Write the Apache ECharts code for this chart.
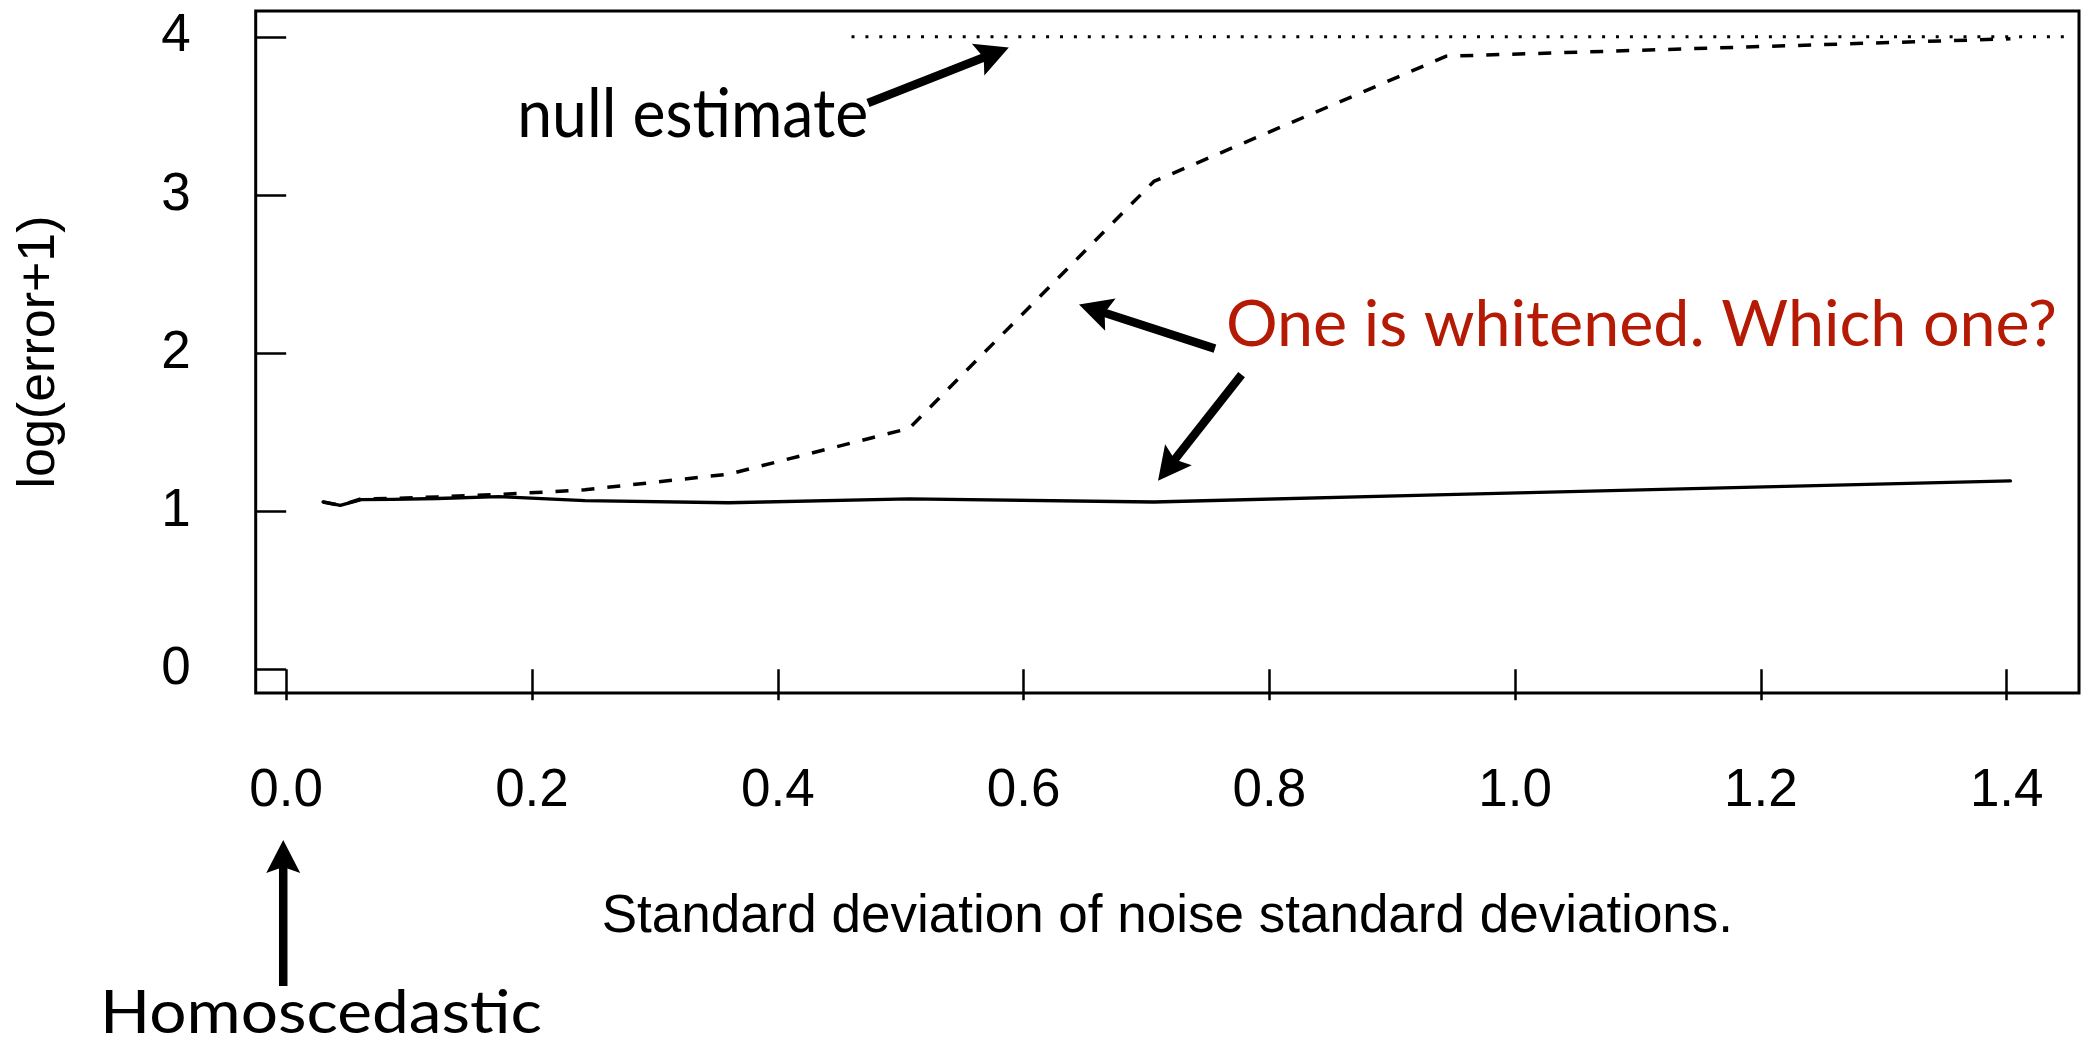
<!DOCTYPE html>
<html>
<head>
<meta charset="utf-8">
<script src="https://cdn.jsdelivr.net/npm/echarts@6/dist/echarts.min.js"></script>
<style>
html,body{margin:0;padding:0;background:#ffffff;}
#chart{width:2087px;height:1047px;}
</style>
</head>
<body>
<div id="chart"></div>
<script>
// ---- data ----
const xSolid  = [0.030, 0.044, 0.061, 0.087, 0.123, 0.173, 0.243, 0.360, 0.507, 0.706, 0.944, 1.403];
const ySolid  = [1.058, 1.036, 1.073, 1.075, 1.080, 1.092, 1.067, 1.053, 1.078, 1.058, 1.105, 1.191];
const xDashed = [0.030, 0.044, 0.061, 0.087, 0.123, 0.173, 0.243, 0.360, 0.507, 0.706, 0.944, 1.403];
const yDashed = [1.058, 1.036, 1.078, 1.080, 1.090, 1.105, 1.135, 1.234, 1.524, 3.085, 3.877, 3.987];
const xNull   = [0.460, 1.447];
const yNull   = [4.0, 4.0];
const xTicks  = [0.0, 0.2, 0.4, 0.6, 0.8, 1.0, 1.2, 1.4];
const yTicks  = [0, 1, 2, 3, 4];
const xTitle  = 'Standard deviation of noise standard deviations.';
const yTitle  = 'log(error+1)';

// annotations (anchored in data coordinates)
const noteTexts  = ['null estimate', 'One is whitened. Which one?', 'Homoscedastic'];
const noteAnchor = [[0.188, 3.338], [0.7647, 2.017], [-0.1515, -2.323]];
const arrowFrom  = [[0.4734, 3.581], [0.7557, 2.028], [0.7774, 1.863], [-0.0024, -2.003]];
const arrowTo    = [[0.5880, 3.932], [0.6451, 2.307], [0.7094, 1.193], [-0.0024, -1.079]];

const zip = (xs, ys) => xs.map((x, i) => [x, ys[i]]);

const HELV = '"Liberation Sans", Arial, Helvetica, sans-serif';
const GILL = 'Lato, "Open Sans", sans-serif';

const chart = echarts.init(document.getElementById('chart'), null, {renderer: 'canvas'});

chart.setOption({
  animation: false,
  backgroundColor: '#ffffff',
  grid: {
    left: 255.7, right: 8, top: 11, bottom: 354,
    show: true, borderColor: '#000', borderWidth: 3,
    outerBoundsMode: 'none', containLabel: false
  },
  xAxis: {
    type: 'value', min: -0.0248, max: 1.4588,
    axisLine: {show: false},
    splitLine: {show: false},
    axisTick: {show: true, customValues: xTicks, length: 31, lineStyle: {color: '#000', width: 2.5}},
    axisLabel: {
      customValues: xTicks, formatter: v => Number(v).toFixed(1),
      fontFamily: HELV, fontSize: 53, color: '#000', margin: 98, verticalAlign: 'middle'
    },
    name: xTitle, nameLocation: 'middle', nameGap: 224.5,
    nameTextStyle: {fontFamily: HELV, fontSize: 53, color: '#000', verticalAlign: 'middle'}
  },
  yAxis: {
    type: 'value', min: -0.15, max: 4.163,
    axisLine: {show: false},
    splitLine: {show: false},
    axisTick: {show: true, customValues: yTicks, length: 31, lineStyle: {color: '#000', width: 2.5}},
    axisLabel: {
      customValues: yTicks, formatter: v => String(Math.round(v)),
      fontFamily: HELV, fontSize: 53, color: '#000', margin: 65
    },
    name: yTitle, nameLocation: 'middle', nameGap: 216,
    nameTextStyle: {fontFamily: HELV, fontSize: 52, color: '#000', verticalAlign: 'middle'}
  },
  series: [
    {
      name: 'null', type: 'line', data: zip(xNull, yNull), symbol: 'none', silent: true,
      lineStyle: {color: '#000', width: 3, type: [3, 10.9], cap: 'butt'}
    },
    {
      name: 'dashed', type: 'line', data: zip(xDashed, yDashed), symbol: 'none', silent: true,
      lineStyle: {color: '#000', width: 3.5, type: [13, 13], cap: 'butt', join: 'round'}
    },
    {
      name: 'solid', type: 'line', data: zip(xSolid, ySolid), symbol: 'none', silent: true,
      lineStyle: {color: '#000', width: 3.3, type: 'solid', cap: 'round', join: 'round'}
    }
  ]
});

// ---- annotations ----
const noteStyle = [
  {color: '#000000', size: 67, width: 351},
  {color: '#b41a04', size: 64, width: 831},
  {color: '#000000', size: 60, width: 442}
];

const cv = document.createElement('canvas');
const ctx = cv.getContext('2d');

function toPx(p) { return chart.convertToPixel({gridIndex: 0}, p); }

const graphics = [];

noteTexts.forEach((t, i) => {
  const st = noteStyle[i];
  const font = st.size + 'px ' + GILL;
  ctx.font = font;
  ctx.textBaseline = 'alphabetic';
  const m = ctx.measureText(t);
  const mid = (m.fontBoundingBoxAscent - m.fontBoundingBoxDescent) / 2;
  const sx = st.width / m.width;
  const p = toPx(noteAnchor[i]);
  graphics.push({
    type: 'text', x: p[0], y: p[1] - mid, scaleX: sx, silent: true,
    style: {text: t, x: 0, y: 0, font: font, fill: st.color, align: 'left', verticalAlign: 'middle'}
  });
});

arrowFrom.forEach((f, i) => {
  const a = toPx(f), b = toPx(arrowTo[i]);
  const dx = b[0] - a[0], dy = b[1] - a[1];
  const len = Math.hypot(dx, dy);
  const ux = dx / len, uy = dy / len, vx = -uy, vy = ux;
  const L = 33, H = 17, notch = 6;
  const baseX = b[0] - ux * L, baseY = b[1] - uy * L;
  const nX = b[0] - ux * (L - notch), nY = b[1] - uy * (L - notch);
  graphics.push({
    type: 'line', silent: true,
    shape: {x1: a[0], y1: a[1], x2: nX + ux * 2, y2: nY + uy * 2},
    style: {stroke: '#000', lineWidth: 8.5, lineCap: 'butt'}
  });
  graphics.push({
    type: 'polygon', silent: true,
    shape: {points: [[b[0], b[1]], [baseX + vx * H, baseY + vy * H], [nX, nY], [baseX - vx * H, baseY - vy * H]]},
    style: {fill: '#000'}
  });
});

chart.setOption({graphic: graphics});
</script>
</body>
</html>
